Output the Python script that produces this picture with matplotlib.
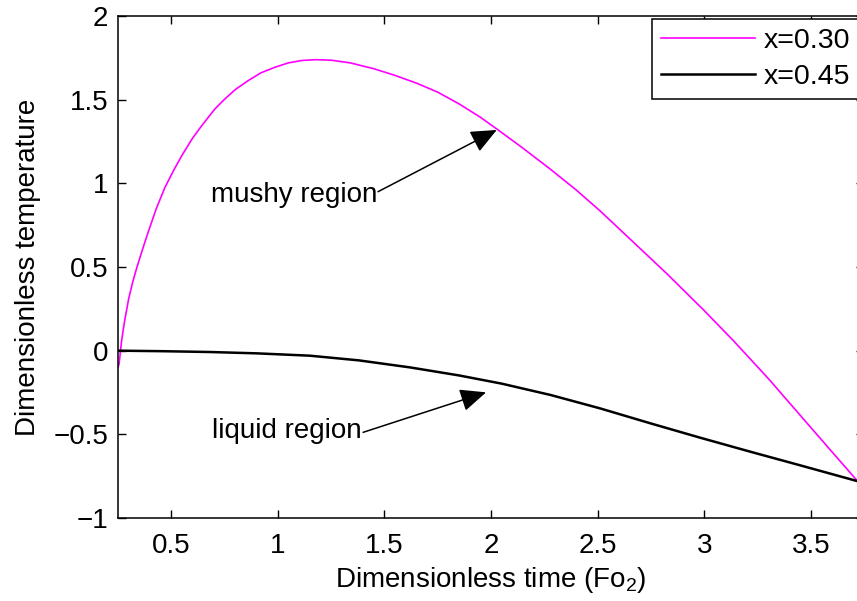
import matplotlib
matplotlib.use('Agg')
import matplotlib.pyplot as plt
from matplotlib.ticker import FuncFormatter

plt.rcParams['font.family'] = ['Liberation Sans', 'DejaVu Sans']
plt.rcParams['mathtext.fontset'] = 'custom'
plt.rcParams['mathtext.rm'] = 'Liberation Sans'
plt.rcParams['mathtext.it'] = 'Liberation Sans'

# curve values
mushy_x = [0.25, 0.255, 0.267, 0.28, 0.30, 0.32, 0.338, 0.36, 0.392, 0.43, 0.47, 0.51,
           0.549, 0.6, 0.643, 0.705, 0.752, 0.80, 0.861, 0.92, 0.987, 1.05, 1.112,
           1.174, 1.25, 1.339, 1.45, 1.55, 1.652, 1.75, 1.85, 1.95, 2.027, 2.15,
           2.277, 2.4, 2.512, 2.65, 2.825, 3.0, 3.137, 3.3, 3.45, 3.6, 3.72]
mushy_y = [-0.1, -0.08, 0.06, 0.17, 0.31, 0.415, 0.495, 0.585, 0.71, 0.85, 0.975, 1.075,
           1.165, 1.27, 1.345, 1.445, 1.505, 1.56, 1.614, 1.66, 1.694, 1.72, 1.734,
           1.739, 1.736, 1.72, 1.685, 1.645, 1.598, 1.545, 1.475, 1.395, 1.325, 1.21,
           1.086, 0.96, 0.835, 0.67, 0.46, 0.24, 0.06, -0.165, -0.385, -0.605, -0.78]

liquid_x = [0.25, 0.45, 0.68, 0.9, 1.15, 1.38, 1.62, 1.85, 2.05, 2.28, 2.512, 2.75,
            2.981, 3.22, 3.45, 3.72]
liquid_y = [0.0, -0.003, -0.008, -0.016, -0.03, -0.058, -0.10, -0.148, -0.197, -0.265,
            -0.345, -0.435, -0.52, -0.605, -0.685, -0.78]

labels = ['x=0.30', 'x=0.45']
xticks = [0.5, 1, 1.5, 2, 2.5, 3, 3.5]
yticks = [-1, -0.5, 0, 0.5, 1, 1.5, 2]

fs = 20

fig = plt.figure(figsize=(8.57, 6.01), dpi=100)
ax = fig.add_axes([118/857, 83/601, 746/857, 502/601])

ax.plot(mushy_x, mushy_y, color='#ff00ff', lw=1.2, label=labels[0])
ax.plot(liquid_x, liquid_y, color='black', lw=1.8, label=labels[1])

ax.set_xlim(0.25, 3.75)
ax.set_ylim(-1, 2)
ax.set_xticks(xticks)
ax.set_yticks(yticks)
fmt = FuncFormatter(lambda v, p: f'{v:g}'.replace('-', '\u2212'))
ax.xaxis.set_major_formatter(fmt)
ax.yaxis.set_major_formatter(fmt)
ax.tick_params(direction='in', length=6, width=1, top=True, right=True,
               labelsize=fs)
ax.tick_params(axis='x', pad=11)
ax.tick_params(axis='y', pad=7)
for s in ax.spines.values():
    s.set_linewidth(1.1)

ax.set_xlabel('Dimensionless time (Fo$_2$)', fontsize=fs, labelpad=4)
ax.set_ylabel('Dimensionless temperature', fontsize=fs, labelpad=9)

# annotations
arrow = dict(arrowstyle='-|>,head_length=0.8,head_width=0.35', mutation_scale=20,
             color='black', lw=1.1, shrinkA=0, shrinkB=0)
ax.text(1.469, 0.93, 'mushy region', fontsize=fs, ha='right', va='center')
ax.annotate('', xy=(2.027, 1.319), xytext=(1.47, 0.95), arrowprops=arrow)
ax.text(1.394, -0.478, 'liquid region', fontsize=fs, ha='right', va='center')
ax.annotate('', xy=(1.977, -0.249), xytext=(1.40, -0.488), arrowprops=arrow)

leg = ax.legend(loc='upper left', bbox_to_anchor=((652-118)/746, (518-19)/502),
                borderaxespad=0, fontsize=20.5, handlelength=3.3, handletextpad=0.28,
                labelspacing=0.34, borderpad=0.33, fancybox=False, framealpha=1)
leg.get_frame().set_edgecolor('black')
leg.get_frame().set_linewidth(1.1)

fig.savefig('out.png', dpi=100)
